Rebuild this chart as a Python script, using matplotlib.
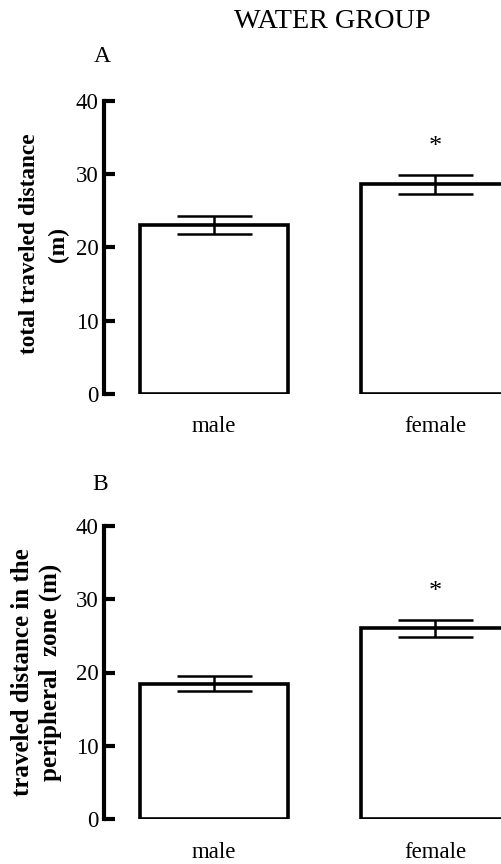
import matplotlib
matplotlib.use("Agg")
import matplotlib.pyplot as plt

categories = ["male", "female"]
total_mean = [23.0, 28.6]
total_sem = [1.2, 1.3]
periph_mean = [18.5, 26.0]
periph_sem = [1.05, 1.15]
significant = [False, True]
yticks = [0, 10, 20, 30, 40]

plt.rcParams['font.family'] = ['Liberation Serif', 'DejaVu Serif']

W, H = 502, 864
fig = plt.figure(figsize=(W / 100, H / 100), dpi=100)

def px_axes(left, top, right, bottom):
    return fig.add_axes([left / W, 1 - bottom / H, (right - left) / W, (bottom - top) / H])

def panel(ax, means, sems):
    x = list(range(len(categories)))
    ax.bar(x, means, width=0.67, color='white', edgecolor='black', linewidth=2.6, zorder=2)
    ax.errorbar(x, means, yerr=sems, fmt='none', ecolor='black', elinewidth=1.8,
                capsize=27, capthick=1.8, zorder=3)
    for xi, m, s, sig in zip(x, means, sems, significant):
        if sig:
            ax.text(xi, m + s + 3.0, "*", ha='center', va='baseline', fontsize=19)
    ax.set_xlim(-0.498, 1.5)
    ax.set_ylim(0, 40)
    ax.set_yticks(yticks)
    ax.set_xticks(x)
    ax.set_xticklabels(categories, fontsize=16.5)
    ax.tick_params(axis='x', length=0, pad=16)
    ax.tick_params(axis='y', direction='in', length=8, width=3, labelsize=16.5, pad=4)
    for s in ['top', 'right', 'bottom']:
        ax.spines[s].set_visible(False)
    ax.spines['left'].set_linewidth(3)
    ax.patch.set_alpha(0)

axA = px_axes(104, 100.5, 545.5, 394)
panel(axA, total_mean, total_sem)
axB = px_axes(104, 525.7, 545.5, 819.3)
panel(axB, periph_mean, periph_sem)

fig.text(44 / W, 1 - 244 / H, "total traveled distance\n(m)", rotation=90,
         ha='center', va='center', multialignment='center', fontsize=16.8,
         fontweight='bold', linespacing=1.5)
fig.text(36.5 / W, 1 - 672 / H, "traveled distance in the\nperipheral  zone (m)", rotation=90,
         ha='center', va='center', multialignment='center', fontsize=18,
         fontweight='bold', linespacing=1.25)

fig.text(332 / W, 1 - 22 / H, "WATER GROUP", ha='center', va='center', fontsize=20.3)
fig.text(102 / W, 1 - 56 / H, "A", ha='center', va='center', fontsize=17)
fig.text(100 / W, 1 - 484 / H, "B", ha='center', va='center', fontsize=17)

fig.savefig("out.png", dpi=100)
